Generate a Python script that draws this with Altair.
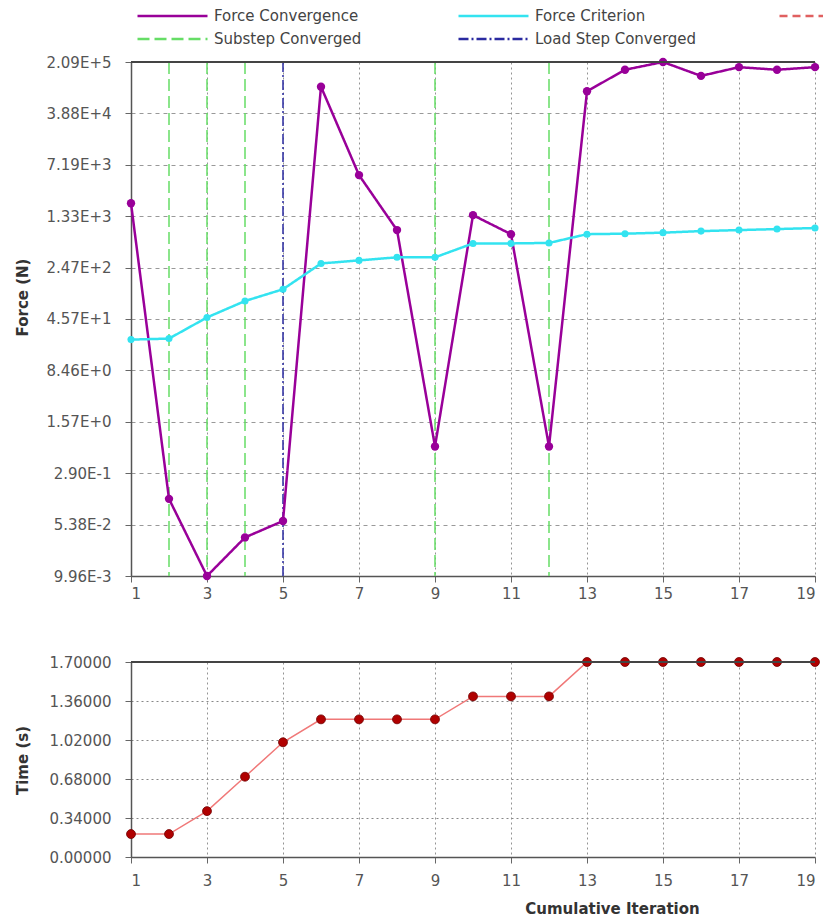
import altair as alt
import pandas as pd

# ---------------- data ----------------
iterations = list(range(1, 20))
force_convergence = [2030, 0.125, 0.00996, 0.0353, 0.0605, 93000, 5120, 843, 0.697,
                     1375, 737, 0.697, 80000, 162000, 209000, 132500, 176500, 162000, 176500]
force_criterion = [23.2, 24.0, 48.0, 82.3, 121, 282, 312, 345, 345,
                   544, 544, 553, 737, 749, 775, 815, 843, 871, 902]
time_values = [0.2, 0.2, 0.4, 0.7, 1.0, 1.2, 1.2, 1.2, 1.2,
               1.4, 1.4, 1.4, 1.7, 1.7, 1.7, 1.7, 1.7, 1.7, 1.7]
substep_iterations = [2, 3, 4, 9, 12]
loadstep_iterations = [5]

force_ticks = [0.00996, 0.0538, 0.290, 1.57, 8.46, 45.7, 247, 1330, 7190, 38800, 209000]
time_ticks = [0.0, 0.34, 0.68, 1.02, 1.36, 1.70]
x_ticks = [1, 3, 5, 7, 9, 11, 13, 15, 17, 19]

legend_names = ["Force Convergence", "Force Criterion", " ", "Substep Converged", "Load Step Converged"]
legend_colors = ["#990099", "#33e3f0", "#e06060", "#66dd66", "#2a2aa0"]
legend_dashes = [[1, 0], [1, 0], [8, 5], [12, 5], [10, 3, 2, 3]]

PURPLE, CYAN, RED, GREEN, BLUE = legend_colors

# ---------------- tables ----------------
force_df = pd.DataFrame({
    "iteration": iterations * 2,
    "value": force_convergence + force_criterion,
    "series": ["Force Convergence"] * len(iterations) + ["Force Criterion"] * len(iterations),
})
steps_df = pd.DataFrame({
    "iteration": substep_iterations + loadstep_iterations,
    "series": ["Substep Converged"] * len(substep_iterations)
              + ["Load Step Converged"] * len(loadstep_iterations),
})
time_df = pd.DataFrame({"iteration": iterations, "time": time_values})

FONT = "DejaVu Sans"
FS = 15
W = 684
H_TOP = 514
H_BOT = 195

x_scale = alt.Scale(domain=[1, 19], nice=False, zero=False)
color_scale = alt.Scale(domain=legend_names, range=legend_colors)
dash_scale = alt.Scale(domain=legend_names, range=legend_dashes)


def x_axis(title=None, **kw):
    return alt.Axis(values=x_ticks, format="d", grid=True, gridDash=[2, 3], gridColor="#888888",
                    gridOpacity=0.9, title=title, labelOverlap=False, tickCount=30, **kw)


legend = alt.Legend(
    title=None, orient="top", columns=3, symbolType="stroke", symbolSize=4900,
    symbolStrokeWidth=2.5, clipHeight=18, labelFont=FONT, labelFontSize=FS,
    labelColor="#444444", labelLimit=300, gridAlign="all", columnPadding=76, rowPadding=5,
    labelOffset=5, symbolOffset=5, padding=0, offset=7,
)

force_lines = alt.Chart(force_df).mark_line(strokeWidth=2.5).encode(
    x=alt.X("iteration:Q", scale=x_scale, axis=x_axis()),
    y=alt.Y("value:Q",
            scale=alt.Scale(type="log", domain=[force_ticks[0], force_ticks[-1]], nice=False),
            axis=alt.Axis(values=force_ticks, labelExpr="upper(format(datum.value, '.2e'))",
                          title="Force (N)", grid=True, gridDash=[4, 4], gridColor="#999999",
                          labelOverlap=False, tickCount=30,
                          titleX=-109, titleY=235, titleAngle=270, titleAlign="center",
                          titleBaseline="middle")),
    color=alt.Color("series:N", scale=color_scale, legend=legend),
    strokeDash=alt.StrokeDash("series:N", scale=dash_scale, legend=legend),
)

conv_points = alt.Chart(force_df).transform_filter(
    alt.datum.series == "Force Convergence"
).mark_point(filled=True, opacity=1, size=70, color=PURPLE).encode(
    x="iteration:Q", y="value:Q"
)
crit_points = alt.Chart(force_df).transform_filter(
    alt.datum.series == "Force Criterion"
).mark_point(filled=True, opacity=1, size=50, color=CYAN).encode(
    x="iteration:Q", y="value:Q"
)

step_rules = alt.Chart(steps_df).mark_rule(strokeWidth=1.5).encode(
    x="iteration:Q",
    color=alt.Color("series:N", scale=color_scale, legend=legend),
    strokeDash=alt.StrokeDash("series:N", scale=dash_scale, legend=legend),
)

top_frame = alt.Chart(time_df).mark_rule(color="#444444", strokeWidth=1.5).encode(
    x=alt.value(0), x2=alt.value(W), y=alt.value(0)
)

top = alt.layer(step_rules, force_lines, conv_points, crit_points,
                top_frame).properties(width=W, height=H_TOP)

time_line = alt.Chart(time_df).mark_line(color="#f07878", strokeWidth=1.5).encode(
    x=alt.X("iteration:Q", scale=x_scale,
            axis=x_axis("Cumulative Iteration", titleX=481, titleY=51, titleAlign="center",
                        titleBaseline="middle", labelPadding=10)),
    y=alt.Y("time:Q", scale=alt.Scale(domain=[0, 1.7], nice=False),
            axis=alt.Axis(values=time_ticks, format=".5f", title="Time (s)", grid=True,
                          gridDash=[2, 3], gridColor="#888888", labelOverlap=False,
                          tickCount=30,
                          titleX=-109, titleY=98, titleAngle=270, titleAlign="center",
                          titleBaseline="middle")),
)
time_points = alt.Chart(time_df).mark_point(filled=True, opacity=1, size=80, color="#b00000",
                                            stroke="#700000", strokeWidth=0.8).encode(
    x="iteration:Q", y="time:Q"
)
bot_frame = alt.Chart(time_df).mark_rule(color="#444444", strokeWidth=1.5).encode(
    x=alt.value(0), x2=alt.value(W), y=alt.value(0)
)
bottom = alt.layer(time_line, time_points, bot_frame).properties(width=W, height=H_BOT)

chart = alt.vconcat(top, bottom, spacing=54).resolve_scale(
    color="shared", strokeDash="shared"
).properties(
    padding={"left": 7, "top": -1, "right": -33, "bottom": 0}
).configure_axis(
    labelFont=FONT, labelFontSize=FS, labelColor="#555555",
    titleFont=FONT, titleFontSize=FS, titleFontWeight="bold", titleColor="#333333",
    domainColor="#555555", domainWidth=1.5, tickColor="#666666", tickSize=6,
    labelPadding=4,
).configure_axisY(labelPadding=14).configure_view(stroke=None)

chart.save("out.html", embed_options={"renderer": "svg", "actions": False})
